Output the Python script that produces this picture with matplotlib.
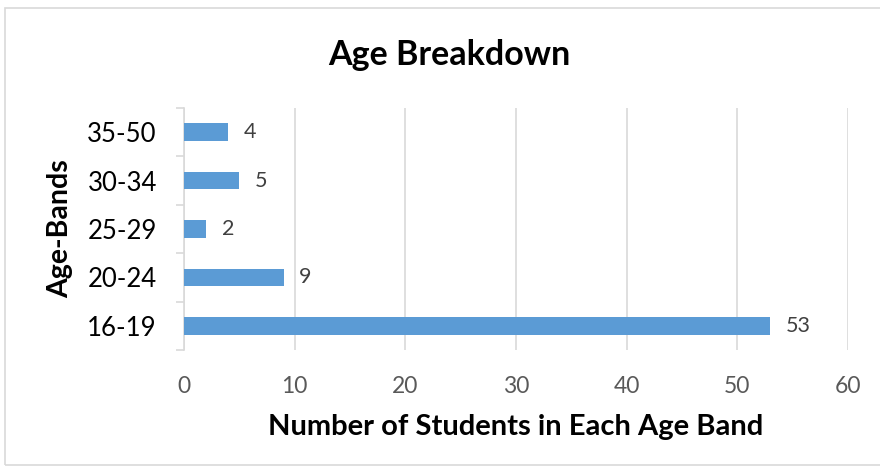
import matplotlib.pyplot as plt
from matplotlib.patches import Rectangle

plt.rcParams['font.family'] = ['Lato', 'DejaVu Sans']

# age bands and student counts
bands = ['16-19', '20-24', '25-29', '30-34', '35-50']
counts = [53, 9, 2, 5, 4]
x_ticks = [0, 10, 20, 30, 40, 50, 60]

fig = plt.figure(figsize=(8.8, 4.7), dpi=100)
ax = fig.add_axes([0.209, 0.2553, 0.7545, 0.5149])

ypos = list(range(len(bands)))
ax.barh(ypos, counts, height=0.36, color='#5b9bd5', zorder=3)
for y, c in zip(ypos, counts):
    ax.text(c + 1.4, y, str(c), va='center', ha='left', fontsize=15.5, color='#404040')

ax.set_xlim(0, 60)
ax.set_ylim(-0.5, len(bands) - 0.5)
ax.set_xticks(x_ticks)
ax.set_xticklabels([str(t) for t in x_ticks], fontsize=16.5, color='#595959')
ax.tick_params(axis='x', length=0, pad=19)
ax.grid(axis='x', color='#d9d9d9', linewidth=1.2, zorder=0)

# category labels, with Excel-style ticks between bands
ax.set_yticks(ypos)
ax.set_yticklabels(bands, fontsize=18.5, color='black')
ax.tick_params(axis='y', length=0, pad=19.5)
ax.set_yticks([y - 0.5 for y in ypos] + [len(bands) - 0.5], minor=True)
ax.tick_params(axis='y', which='minor', length=6, color='#d9d9d9', width=1.2)

for side in ['top', 'right', 'bottom']:
    ax.spines[side].set_visible(False)
ax.spines['left'].set_color('#d9d9d9')
ax.spines['left'].set_linewidth(1.2)

fig.text(449 / 880, 1 - 55 / 470, 'Age Breakdown', fontsize=24.5, fontweight='bold',
         ha='center', va='center')
ax.set_xlabel('Number of Students in Each Age Band', fontsize=21, fontweight='bold', labelpad=12)
ax.set_ylabel('Age-Bands', fontsize=20.5, fontweight='bold', labelpad=10)

# chart frame
fig.patches.append(Rectangle((5 / 880, 5 / 470), 1.0, 1 - 13 / 470, transform=fig.transFigure,
                             fill=False, edgecolor='#d9d9d9', linewidth=1.2))

fig.savefig('out.png', dpi=100)
